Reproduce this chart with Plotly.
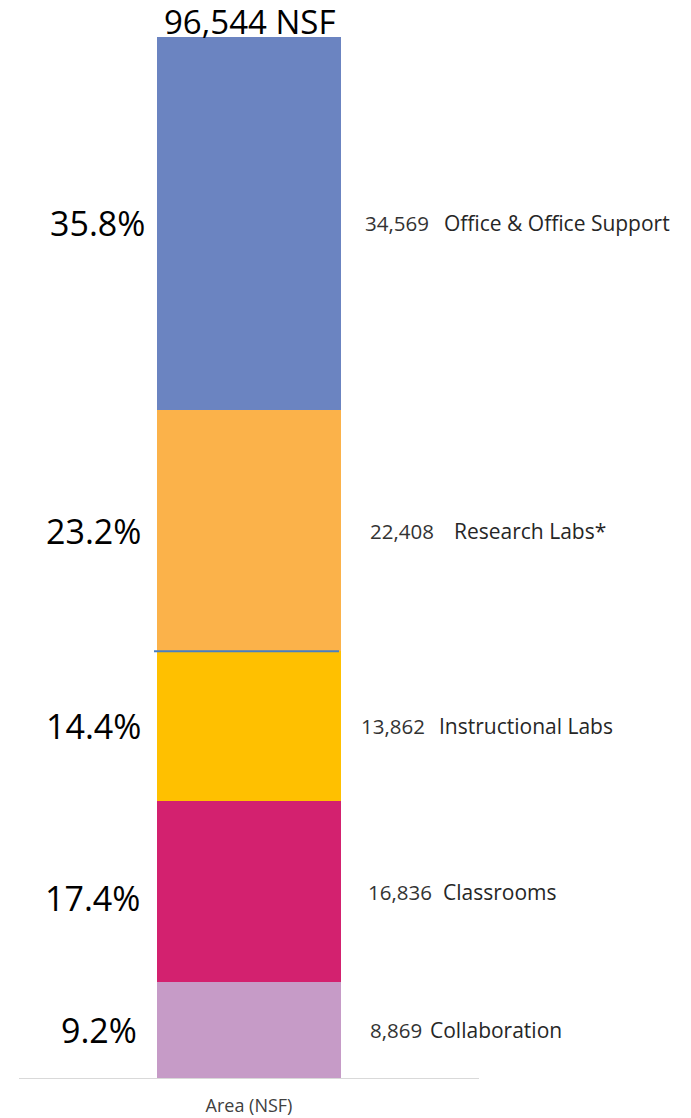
import plotly.graph_objects as go

# Data (bottom to top of the stack)
categories = ["Collaboration", "Classrooms", "Instructional Labs", "Research Labs*", "Office & Office Support"]
areas = [8869, 16836, 13862, 22408, 34569]
x_label = "Area (NSF)"

# Styles
colors = ["#c69bc7", "#d3216f", "#ffc000", "#fbb24a", "#6b84c1"]
pct_right_px = [139, 142, 143, 143, 147]
val_left_px = [368, 366, 359, 368, 363]
name_left_px = [428, 441, 437, 452, 442]
pct_yshift = [0, -6, 0, 0, 0]

W, H = 691, 1118
L, R, T, B = 19, 212, 37, 40
PW = W - L - R

def px2paper(px):
    return (px - L) / PW

total = sum(areas)
FONT = "Open Sans"

fig = go.Figure()
for cat, a, c in zip(categories, areas, colors):
    fig.add_trace(go.Bar(x=[x_label], y=[a], name=cat, marker=dict(color=c, line=dict(width=0)),
                         width=0.4, hoverinfo="name+y"))

annotations = []
cum = 0
for i, (cat, a) in enumerate(zip(categories, areas)):
    mid = cum + a / 2
    pct = a / total * 100
    annotations.append(dict(x=px2paper(pct_right_px[i]), xref="paper", y=mid, yref="y",
                            text=f"{pct:.1f}%", showarrow=False, xanchor="right", yanchor="middle",
                            yshift=pct_yshift[i],
                            font=dict(family=FONT, size=34, color="#000000")))
    annotations.append(dict(x=px2paper(val_left_px[i]), xref="paper", y=mid, yref="y",
                            text=f"{a:,}", showarrow=False, xanchor="left", yanchor="middle",
                            font=dict(family=FONT, size=20.5, color="#333333")))
    annotations.append(dict(x=px2paper(name_left_px[i]), xref="paper", y=mid, yref="y",
                            text=cat, showarrow=False, xanchor="left", yanchor="middle",
                            font=dict(family=FONT, size=21, color="#262626")))
    cum += a

annotations.append(dict(x=0.5, xref="paper", y=1, yref="paper", text=f"{total:,} NSF",
                        showarrow=False, xanchor="center", yanchor="middle", yshift=16,
                        font=dict(family=FONT, size=33, color="#000000")))

boundary = sum(areas[:3])
shapes = [dict(type="line", xref="paper", yref="y", x0=px2paper(154), x1=px2paper(339),
               y0=boundary, y1=boundary, line=dict(color="#4a7fc1", width=2))]

fig.update_layout(
    barmode="stack",
    width=W, height=H,
    margin=dict(l=L, r=R, t=T, b=B, pad=0, autoexpand=False),
    paper_bgcolor="white", plot_bgcolor="white",
    showlegend=False,
    annotations=annotations,
    shapes=shapes,
    xaxis=dict(type="category", range=[-0.5, 0.5], showline=True, linecolor="#d9d9d9", linewidth=1,
               showgrid=False, zeroline=False, ticks="", ticklabelstandoff=11, automargin=False,
               tickfont=dict(family=FONT, size=18, color="#404040")),
    yaxis=dict(range=[0, total], visible=False, showgrid=False, zeroline=False, automargin=False),
)

fig.write_html("out.html")
